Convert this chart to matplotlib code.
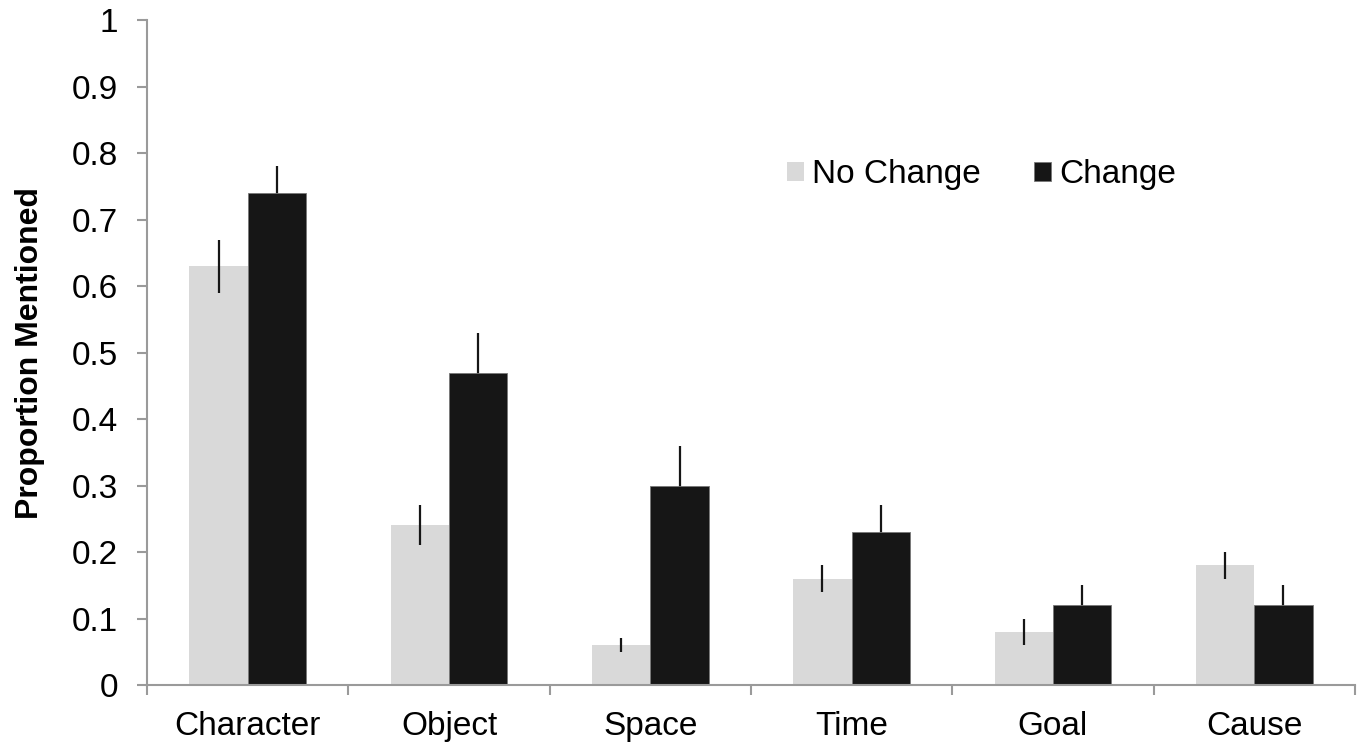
import numpy as np
import matplotlib
matplotlib.use("Agg")
import matplotlib.pyplot as plt
from matplotlib.ticker import FixedLocator

plt.rcParams["font.family"] = ["Liberation Sans", "DejaVu Sans"]

categories = ["Character", "Object", "Space", "Time", "Goal", "Cause"]
no_change = [0.63, 0.24, 0.06, 0.16, 0.08, 0.18]
no_change_err = [0.04, 0.03, 0.01, 0.02, 0.02, 0.02]
change = [0.74, 0.47, 0.30, 0.23, 0.12, 0.12]
change_err = [0.04, 0.06, 0.06, 0.04, 0.03, 0.03]
series_names = ["No Change", "Change"]

LIGHT = "#d9d9d9"
DARK = "#161616"
AXIS = "#9a9a9a"

fig = plt.figure(figsize=(13.63, 7.47), dpi=100)
ax = fig.add_axes([0.108, 0.083, 0.886, 0.890])

x = np.arange(len(categories))
w = 0.29
ax.bar(x - w / 2, no_change, w, color=LIGHT, edgecolor="none",
       label=series_names[0], zorder=2)
ax.errorbar(x - w / 2, no_change, yerr=no_change_err, fmt="none",
            ecolor=DARK, elinewidth=1.6, capsize=0, zorder=3)
ax.bar(x + w / 2, change, w, color=DARK, edgecolor="#777777", linewidth=0.6,
       label=series_names[1], zorder=2)
ax.errorbar(x + w / 2, change, yerr=change_err, fmt="none",
            ecolor=DARK, elinewidth=1.6, capsize=0, zorder=1)

ax.set_xlim(-0.5, len(categories) - 0.5)
ax.set_ylim(0, 1)
ax.set_yticks(np.arange(0, 1.01, 0.1))
ax.set_yticklabels(["0"] + [f"{v:.1f}" for v in np.arange(0.1, 0.95, 0.1)] + ["1"])
ax.set_xticks(x)
ax.set_xticklabels(categories)
ax.xaxis.set_minor_locator(FixedLocator(np.arange(-0.5, len(categories), 1.0)))
ax.tick_params(axis="x", which="major", length=0, pad=19, labelsize=24)
ax.tick_params(axis="x", which="minor", length=7, width=1.5, color=AXIS)
ax.tick_params(axis="y", length=7, width=1.5, color=AXIS, labelsize=24, pad=14)

for side in ["top", "right"]:
    ax.spines[side].set_visible(False)
for side in ["left", "bottom"]:
    ax.spines[side].set_color(AXIS)
    ax.spines[side].set_linewidth(1.5)

ax.set_ylabel("Proportion Mentioned", fontsize=23, fontweight="bold", labelpad=19)

ax.legend(loc="center left", bbox_to_anchor=(0.530, 0.768), ncol=2, frameon=False,
          fontsize=24, handlelength=0.5, handleheight=0.5, handletextpad=0.25,
          columnspacing=1.6, borderaxespad=0, borderpad=0)

fig.savefig("out.png", dpi=100)
plt.close(fig)
